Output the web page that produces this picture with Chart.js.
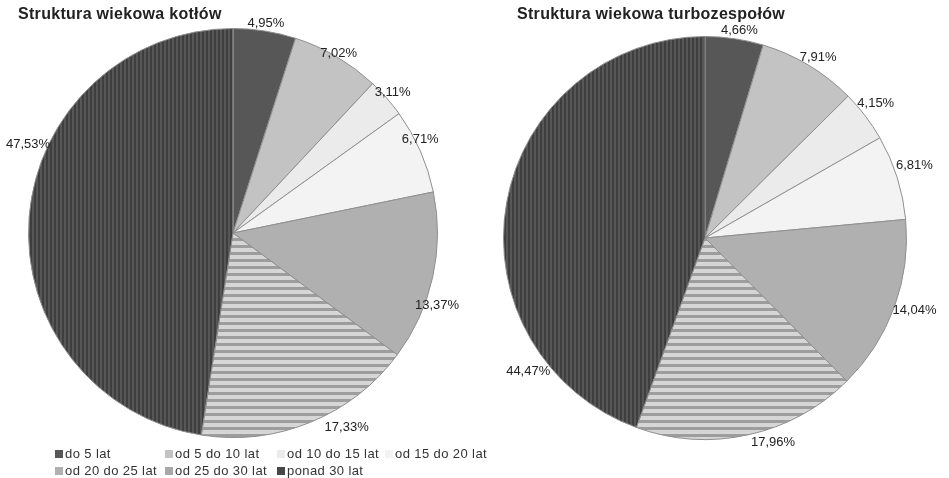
<!DOCTYPE html>
<html>
<head>
<meta charset="utf-8">
<script src="https://cdn.jsdelivr.net/npm/chart.js@4.4.1/dist/chart.umd.min.js"></script>
<style>
  html, body { margin: 0; padding: 0; background: #fff; }
  body { width: 949px; height: 478px; position: relative; overflow: hidden;
         font-family: "Liberation Sans", Arial, sans-serif; }
  .box { position: absolute; top: 0; height: 478px; }
  #leftBox { left: 0; width: 466px; }
  #rightBox { left: 474px; width: 475px; }
  .title { position: absolute; top: 5px; font-weight: bold; font-size: 16px;
           letter-spacing: 0.3px; color: #222; white-space: nowrap; z-index: 2; }
  #legend { position: absolute; left: 55px; top: 445px; display: grid;
            grid-template-columns: 110px 112px 108px 110px; grid-auto-rows: 17px;
            font-size: 13px; letter-spacing: 0.4px; color: #333; z-index: 2; }
  #legend div { display: flex; align-items: center; white-space: nowrap; }
  #legend span.sw { width: 8px; height: 8px; margin-right: 2px; flex: none; }
</style>
</head>
<body>
<div class="title" style="left:18px">Struktura wiekowa kotłów</div>
<div class="title" style="left:517px">Struktura wiekowa turbozespołów</div>
<div class="box" id="leftBox"><canvas id="pieLeft"></canvas></div>
<div class="box" id="rightBox"><canvas id="pieRight"></canvas></div>
<div id="legend"></div>

<script>
// age groups
const categories = ['do 5 lat', 'od 5 do 10 lat', 'od 10 do 15 lat', 'od 15 do 20 lat',
                    'od 20 do 25 lat', 'od 25 do 30 lat', 'ponad 30 lat'];
// kotły (boilers)
const boilerShares = [4.95, 7.02, 3.11, 6.71, 13.37, 17.33, 47.53];
// turbozespoły
const turbineShares = [4.66, 7.91, 4.15, 6.81, 14.04, 17.96, 44.47];

// label placement tweaks (degrees / px beyond the rim)
const leftLabelShift = [0, 0, 0, -3, 7, -8, 19];
const leftLabelDist = [8, 4, 8, 5, 12, 21, 19];
const rightLabelShift = [1, 1, -1, -1.5, -1, -6, -47];
const rightLabelDist = [9, 12, 16, 20, 20, 14, 20];

function stripes(bg, fg, vertical, period, lineW) {
  const c = document.createElement('canvas');
  c.width = vertical ? period : 1;
  c.height = vertical ? 1 : period;
  const x = c.getContext('2d');
  x.fillStyle = bg;
  x.fillRect(0, 0, c.width, c.height);
  x.fillStyle = fg;
  if (vertical) x.fillRect(0, 0, lineW, 1);
  else x.fillRect(0, 0, 1, lineW);
  return x.createPattern(c, 'repeat');
}

const sliceColors = [
  '#575757',
  '#c3c3c3',
  '#ebebeb',
  '#f3f3f3',
  '#b0b0b0',
  stripes('#d6d6d6', '#9d9d9d', false, 7, 3),
  stripes('#3e3e3e', '#575757', true, 4, 2)
];
const swatches = ['#575757', '#c3c3c3', '#ebebeb', '#f3f3f3', '#b0b0b0', '#a8a8a8', '#474747'];

const pieLabels = {
  id: 'pieLabels',
  afterDatasetsDraw(chart, args, opts) {
    const meta = chart.getDatasetMeta(0);
    const vals = chart.data.datasets[0].data;
    const ctx = chart.ctx;
    ctx.save();
    ctx.font = '13px "Liberation Sans", Arial, sans-serif';
    ctx.fillStyle = '#222';
    ctx.textAlign = 'center';
    ctx.textBaseline = 'middle';
    meta.data.forEach((arc, i) => {
      const p = arc.getProps(['x', 'y', 'startAngle', 'endAngle', 'outerRadius'], true);
      const a = (p.startAngle + p.endAngle) / 2 + opts.shift[i] * Math.PI / 180;
      const d = p.outerRadius + opts.dist[i];
      const txt = vals[i].toFixed(2).replace('.', ',') + '%';
      ctx.fillText(txt, p.x + Math.cos(a) * d, p.y + Math.sin(a) * d);
    });
    ctx.restore();
  }
};

function makePie(id, values, padding, shift, dist) {
  return new Chart(document.getElementById(id).getContext('2d'), {
    type: 'pie',
    data: {
      labels: categories,
      datasets: [{
        data: values,
        backgroundColor: sliceColors,
        borderColor: '#8f8f8f',
        borderWidth: 1
      }]
    },
    options: {
      responsive: true,
      maintainAspectRatio: false,
      animation: false,
      layout: { padding: padding },
      plugins: {
        legend: { display: false },
        tooltip: { enabled: false },
        pieLabels: { shift: shift, dist: dist }
      }
    },
    plugins: [pieLabels]
  });
}

makePie('pieLeft', boilerShares, { top: 28, bottom: 40, left: 0, right: 0 }, leftLabelShift, leftLabelDist);
makePie('pieRight', turbineShares, { top: 36, bottom: 38, left: 0, right: 13 }, rightLabelShift, rightLabelDist);

// legend under the left chart
const legend = document.getElementById('legend');
categories.forEach((name, i) => {
  const item = document.createElement('div');
  const sw = document.createElement('span');
  sw.className = 'sw';
  sw.style.background = swatches[i];
  item.appendChild(sw);
  item.appendChild(document.createTextNode(name));
  legend.appendChild(item);
});
</script>
</body>
</html>
